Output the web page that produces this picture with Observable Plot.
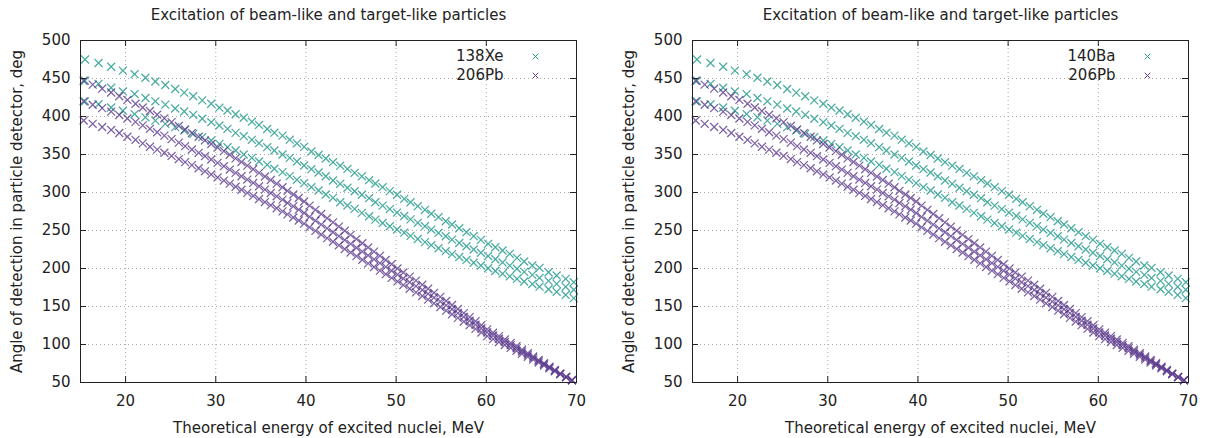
<!DOCTYPE html>
<html><head><meta charset="utf-8">
<script src="https://cdn.jsdelivr.net/npm/d3@7"></script>
<script src="https://cdn.jsdelivr.net/npm/@observablehq/plot@0.6"></script>
<style>
body{margin:0;background:#fff;}
#wrap{display:flex;width:1208px;height:438px;overflow:hidden;}
#wrap svg{font-family:"DejaVu Sans",sans-serif;}
</style></head><body><div id="wrap"></div>
<script>
const chartTitle = "Excitation of beam-like and target-like particles";
const xLabel = "Theoretical energy of excited nuclei, MeV";
const yLabel = "Angle of detection in particle detector, deg";
const beamNames = ["138Xe", "140Ba"];
const targetName = "206Pb";
const xTicks = [20, 30, 40, 50, 60, 70];
const yTicks = [50, 100, 150, 200, 250, 300, 350, 400, 450, 500];

// beam-like nuclei (shared energy grid, three angle series)
const beamEnergy = [15.5, 17.0, 18.4, 19.7, 21.0, 22.2, 23.3, 24.4, 25.5, 26.5, 27.5, 28.5, 29.5, 30.4, 31.3, 32.2, 33.1, 34.0, 34.8, 35.7, 36.5, 37.4, 38.2, 39.0, 39.8, 40.6, 41.4, 42.2, 43.0, 43.8, 44.6, 45.4, 46.2, 47.0, 47.7, 48.5, 49.3, 50.1, 50.9, 51.6, 52.4, 53.2, 53.9, 54.7, 55.5, 56.2, 57.0, 57.8, 58.6, 59.4, 60.2, 61.0, 61.8, 62.6, 63.4, 64.2, 65.1, 65.9, 66.9, 67.8, 68.8, 69.7];
const beamAngle1 = [475, 470.4, 465.5, 460.4, 455.7, 451, 446, 441.5, 436.2, 431.4, 426.7, 421.2, 416.8, 411.6, 407.9, 403, 398.3, 393.2, 388.9, 383.6, 378.7, 374.8, 369.5, 364.7, 360, 354, 349.4, 344.7, 339.9, 335.3, 331, 325.9, 321.3, 316.2, 311.8, 307, 301.8, 297, 291.7, 287.2, 282, 277.2, 272, 267.5, 262.2, 257.9, 253, 247.8, 242.5, 237.7, 232.5, 228, 223.7, 219.3, 214, 209.2, 204, 200.9, 195.1, 190.8, 186.4, 182];
const beamAngle2 = [447, 443, 437.8, 433, 429.5, 424.3, 420, 415.6, 410.5, 406.6, 402.2, 397, 392.5, 388.2, 383.8, 378.5, 374.1, 369.3, 364.9, 359.6, 355.3, 350, 345.6, 340.8, 335.5, 330.7, 326.3, 321.4, 315.8, 311.4, 306.2, 301.7, 297, 292.5, 287.2, 282.7, 278.2, 273.6, 269.1, 264.6, 260.1, 255.7, 251.2, 246.8, 242.4, 238.0, 233.6, 229.3, 225.0, 220.7, 216.4, 212.2, 208.0, 203.8, 199.7, 195.6, 191.6, 187.6, 183.7, 179.8, 175.9, 172.0];
const beamAngle3 = [420, 416.2, 411.8, 407.6, 403.2, 398.9, 394.6, 390.3, 386.0, 381.6, 377.2, 372.8, 368.4, 364.0, 359.6, 355.3, 350, 345.6, 340.8, 336.4, 331.2, 326.8, 321.5, 316.7, 312.3, 307, 302.6, 297.4, 293, 287.2, 282.9, 278.5, 273.2, 268.7, 264.3, 259.9, 255.6, 251.3, 247.1, 242.9, 238.8, 234.7, 230.7, 226.7, 222.8, 218.9, 215.1, 211.3, 207.6, 203.9, 200.3, 196.7, 193.2, 189.7, 186.3, 182.9, 179.5, 176.1, 172.7, 169.3, 165.2, 161.0];

// target-like nuclei (shared energy grid, three angle series)
const targetEnergy = [15.35, 16.35, 17.4, 18.4, 19.3, 20.2, 21.1, 21.9, 22.7, 23.5, 24.3, 25.1, 25.9, 26.6, 27.35, 28.1, 28.8, 29.5, 30.2, 30.9, 31.55, 32.2, 32.85, 33.5, 34.15, 34.8, 35.45, 36.1, 36.75, 37.4, 37.95, 38.6, 39.2, 39.8, 40.4, 41.05, 41.7, 42.35, 43.0, 43.65, 44.3, 44.95, 45.6, 46.25, 46.9, 47.55, 48.2, 48.85, 49.5, 50.15, 50.8, 51.5, 52.2, 52.9, 53.55, 54.2, 54.9, 55.55, 56.2, 56.85, 57.5, 58.15, 58.8, 59.45, 60.1, 60.75, 61.4, 62.05, 62.7, 63.35, 63.95, 64.6, 65.2, 65.8, 66.4, 67.0, 67.6, 68.2, 68.85, 69.5];
const targetAngle1 = [447, 441.9, 436.6, 431.6, 426.7, 421.8, 416.8, 411.9, 407.2, 402.4, 397.6, 392.6, 387.6, 382.9, 378.2, 373.4, 368.5, 363.8, 359.2, 354.4, 349.7, 344.9, 340.1, 335.4, 330.6, 325.8, 321.1, 316.4, 311.6, 306.9, 302.2, 297.4, 292.8, 288.2, 282.7, 277.2, 271.7, 266.2, 260.7, 255.2, 249.7, 244.2, 238.7, 233.2, 227.7, 222.2, 216.7, 211.2, 205.6, 200.0, 194.7, 189.3, 184.0, 178.7, 173.3, 168.0, 162.7, 157.3, 152.0, 146.7, 141.3, 136.0, 130.7, 125.3, 120.0, 115.5, 111.1, 106.6, 102.1, 97.7, 93.2, 88.7, 84.3, 79.8, 75.3, 70.9, 66.4, 61.9, 57.5, 53.0];
const targetAngle2 = [420, 415.5, 411, 406.4, 401.9, 397.4, 392.9, 388.3, 383.8, 379.3, 374.8, 370.2, 365.6, 361, 356.6, 352.2, 347.8, 343.4, 339, 334.6, 330.2, 325.8, 321.4, 317, 312.6, 308.2, 303.8, 299.4, 295, 290.6, 286.2, 281.8, 277.4, 273, 268, 262.9, 257.8, 252.8, 247.7, 242.6, 237.5, 232.4, 227.3, 222.3, 217.2, 212.1, 207.1, 202.1, 197, 192, 186.9, 181.9, 176.8, 171.7, 166.7, 161.6, 156.5, 151.5, 146.4, 141.3, 136.3, 131.2, 126.1, 121.1, 116, 111.8, 107.6, 103.4, 99.2, 95, 90.8, 86.6, 82.4, 78.2, 74, 69.8, 65.6, 61.4, 57.2, 53];
const targetAngle3 = [394.7, 390.4, 386.2, 382.3, 378.3, 373.4, 369.3, 364.6, 360.2, 356.4, 352.3, 348.1, 344.0, 340.0, 336, 331.9, 327.9, 323.8, 319.8, 315.7, 311.7, 307.6, 303.6, 299.5, 295.5, 291.4, 287.4, 283.3, 279.3, 275.2, 271.2, 267.1, 263.1, 259, 254.2, 249.5, 244.7, 240, 235.2, 230.5, 225.7, 221, 216.2, 211.5, 206.7, 202, 197.2, 192.5, 187.7, 183, 178.2, 173.4, 168.6, 163.8, 159, 154.2, 149.4, 144.6, 139.8, 135, 130.2, 125.4, 120.6, 115.8, 111, 107.1, 103.3, 99.4, 95.5, 91.7, 87.8, 83.9, 80.1, 76.2, 72.3, 68.5, 64.6, 60.7, 56.9, 53];

const beamColor = "#2a9d8f";
const targetColor = "#5b3a8c";

function rowsOf(energy, series) {
  const out = [];
  series.forEach(arr => arr.forEach((a, i) => out.push({e: energy[i], a})));
  return out;
}
const beamRows = rowsOf(beamEnergy, [beamAngle1, beamAngle2, beamAngle3]);
const targetRows = rowsOf(targetEnergy, [targetAngle1, targetAngle2, targetAngle3]);

function panel(beamName, mL, mR) {
  const W = 604, H = 438, mT = 40, mB = 56;
  const iw = W - mL - mR, ih = H - mT - mB;
  const ink = "#222";
  const fs = 15;
  return Plot.plot({
    width: W, height: H, marginTop: mT, marginBottom: mB, marginLeft: mL, marginRight: mR,
    style: {fontFamily: "DejaVu Sans, sans-serif", fontSize: fs + "px", background: "#fff", color: "#222"},
    x: {domain: [15, 70]},
    y: {domain: [50, 500]},
    marks: [
      Plot.gridX(xTicks.slice(0, -1), {stroke: "#a8a8a8", strokeOpacity: 1, strokeDasharray: "1,3"}),
      Plot.gridY(yTicks.slice(1, -1), {stroke: "#a8a8a8", strokeOpacity: 1, strokeDasharray: "1,3"}),
      Plot.dot(beamRows, {x: "e", y: "a", symbol: "times", r: 3.7, stroke: beamColor, strokeWidth: 1.25, strokeOpacity: 0.85}),
      Plot.dot(targetRows, {x: "e", y: "a", symbol: "times", r: 3.7, stroke: targetColor, strokeWidth: 1.25, strokeOpacity: 0.8}),
      Plot.frame({stroke: ink}),
      Plot.tickX(xTicks, {x: d => d, insetTop: ih - 6, stroke: ink}),
      Plot.tickX(xTicks, {x: d => d, insetBottom: ih - 6, stroke: ink}),
      Plot.tickY(yTicks, {y: d => d, insetRight: iw - 6, stroke: ink}),
      Plot.tickY(yTicks, {y: d => d, insetLeft: iw - 6, stroke: ink}),
      Plot.axisX({ticks: xTicks, tickSize: 0, tickPadding: 13, label: null, fontSize: fs}),
      Plot.axisY({ticks: yTicks, tickSize: 0, tickPadding: 10, label: null, fontSize: fs}),
      Plot.text([chartTitle], {frameAnchor: "top", lineAnchor: "middle", dy: -25, fontSize: fs, fill: ink}),
      Plot.text([xLabel], {frameAnchor: "bottom", lineAnchor: "middle", dy: 46, fontSize: fs, fill: ink}),
      Plot.text([yLabel], {frameAnchor: "left", textAnchor: "middle", lineAnchor: "middle", rotate: -90, dx: -63, fontSize: fs, fill: ink}),
      Plot.text([beamName], {frameAnchor: "top-right", textAnchor: "end", lineAnchor: "middle", dx: -73, dy: 16, fontSize: fs, fill: ink}),
      Plot.text([targetName], {frameAnchor: "top-right", textAnchor: "end", lineAnchor: "middle", dx: -73, dy: 35, fontSize: fs, fill: ink}),
      Plot.dot([beamName], {frameAnchor: "top-right", dx: -41, dy: 16, symbol: "times", r: 2.6, stroke: beamColor, strokeWidth: 1}),
      Plot.dot([targetName], {frameAnchor: "top-right", dx: -41, dy: 35, symbol: "times", r: 2.6, stroke: targetColor, strokeWidth: 1})
    ]
  });
}

const wrap = document.getElementById("wrap");
wrap.appendChild(panel(beamNames[0], 80, 28));
wrap.appendChild(panel(beamNames[1], 88, 20));
</script>
</body></html>
